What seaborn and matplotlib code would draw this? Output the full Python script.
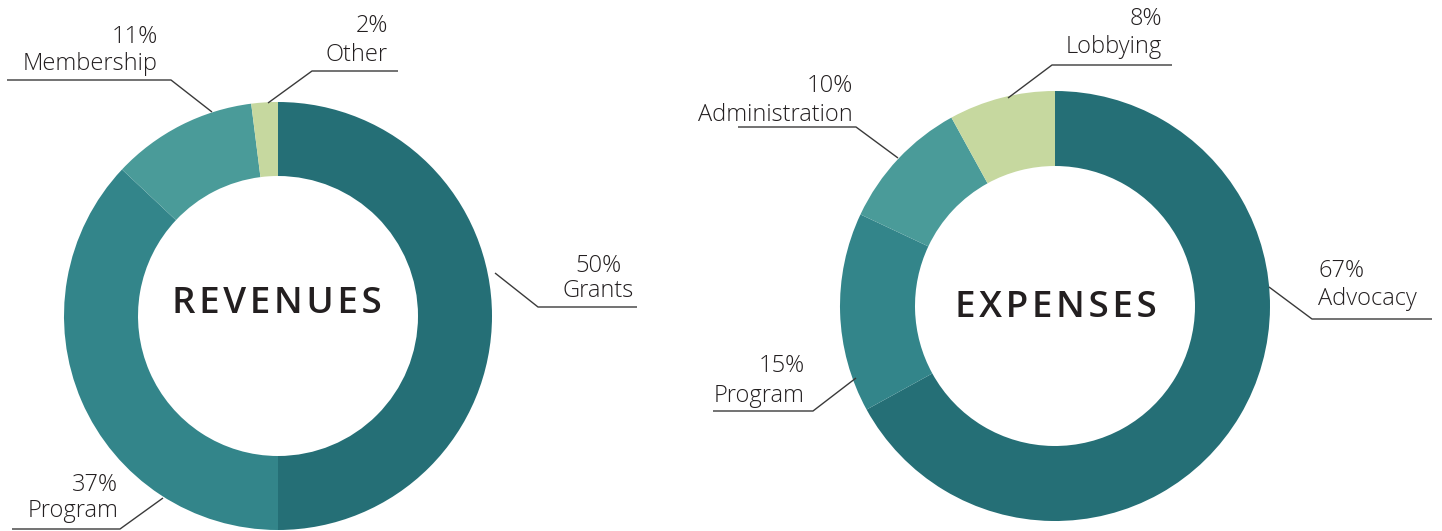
import matplotlib
matplotlib.use("Agg")
import matplotlib.pyplot as plt
import seaborn as sns

# --- data ---
rev_labels = ["Grants", "Program", "Membership", "Other"]
rev_values = [50, 37, 11, 2]
exp_labels = ["Advocacy", "Program", "Administration", "Lobbying"]
exp_values = [67, 15, 10, 8]
palette = ["#256f76", "#33858a", "#4a9b99", "#c6d89f"]

sns.set_theme(style="white")
plt.rcParams['font.family'] = ['Open Sans', 'DejaVu Sans']

W, H = 1442, 531
fig = plt.figure(figsize=(W / 100, H / 100), dpi=100)
ax = fig.add_axes([0, 0, 1, 1])

# donuts, drawn in pixel coordinates (y axis inverted later, so clockwise = counterclock)
ax.pie(rev_values, colors=palette, radius=214, center=(278, 316),
       startangle=-90, counterclock=True,
       wedgeprops=dict(width=74, edgecolor="none"))
ax.pie(exp_values, colors=palette, radius=215, center=(1055, 306),
       startangle=-90, counterclock=True,
       wedgeprops=dict(width=75, edgecolor="none"))

ax.set_xlim(0, W)
ax.set_ylim(H, 0)
ax.set_aspect("equal")
ax.axis("off")

txt = "#231f20"
line_c = "#3a3a3a"

# label layout: (value, label, text x, ha, baseline of pct, baseline of label, leader points)
layout = [
    (rev_values[0], rev_labels[0], 598, "center", 272, 297, [(495, 273), (538, 307), (637, 307)]),
    (rev_values[1], rev_labels[1], 118, "right", 491, 517, [(163, 498), (120, 529), (12, 529)]),
    (rev_values[2], rev_labels[2], 158, "right", 43, 70, [(212, 112), (171, 80), (7, 80)]),
    (rev_values[3], rev_labels[3], 388, "right", 32, 61, [(268, 103), (312, 71), (398, 71)]),
    (exp_values[0], exp_labels[0], 1318, "left", 277, 305, [(1269, 287), (1312, 319), (1432, 319)]),
    (exp_values[1], exp_labels[1], 805, "right", 372, 402, [(856, 378), (813, 411), (713, 411)]),
    (exp_values[2], exp_labels[2], 853, "right", 92, 121, [(898, 158), (856, 127), (738, 127)]),
    (exp_values[3], exp_labels[3], 1162, "right", 25, 53, [(1008, 98), (1052, 65), (1172, 65)]),
]

for val, name, tx, ha, y1, y2, pts in layout:
    ax.text(tx, y1, f"{val}%", ha=ha, va="baseline", fontsize=17, color=txt, fontweight="light")
    ax.text(tx, y2, name, ha=ha, va="baseline", fontsize=17, color=txt, fontweight="light")
    xs = [p[0] for p in pts]
    ys = [p[1] for p in pts]
    ax.plot(xs, ys, color=line_c, lw=1.0, solid_capstyle="butt")

hair = "\u200a"
ax.text(277, 313, hair.join("REVENUES"), ha="center", va="baseline",
        fontsize=26.5, fontweight="semibold", color=txt)
ax.text(1056, 317, hair.join("EXPENSES"), ha="center", va="baseline",
        fontsize=26.5, fontweight="semibold", color=txt)

fig.savefig("out.png", dpi=100, facecolor="white")
